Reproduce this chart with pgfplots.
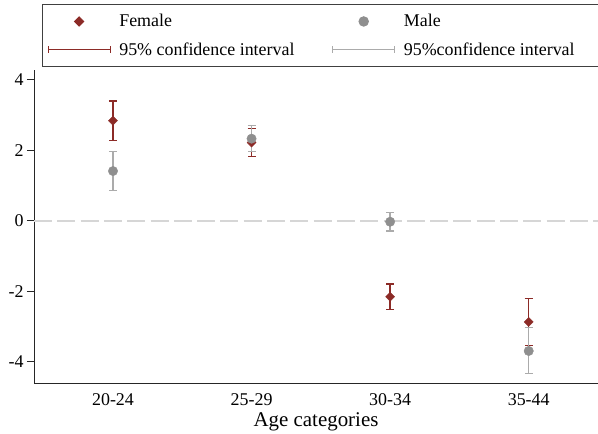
\documentclass[border=0pt]{standalone}
\usepackage{pgfplots}
\pgfplotsset{compat=1.18}
\usepackage{fontspec}
\setmainfont{Liberation Serif}
\definecolor{fred}{HTML}{8C2B27}
\definecolor{mgray}{HTML}{8F8F8F}
\definecolor{cgray}{HTML}{ABABAB}
\definecolor{zline}{HTML}{D6D6D6}
\begin{document}
\begin{tikzpicture}
\begin{axis}[
  at={(0,0)}, anchor=south west,
  scale only axis, width=564bp, height=313bp,
  xmin=-0.57, xmax=3.5, ymin=-4.61, ymax=4.28,
  axis x line*=bottom, axis y line*=left,
  axis line style={black!85, line width=1bp, -},
  xtick={0,1,2,3}, xticklabels={20-24,25-29,30-34,35-44},
  ytick={-4,-2,0,2,4}, yticklabels={-4,-2,0,2,4},
  xtick style={draw=none},
  ytick style={black!85, line width=1bp},
  tick align=outside, major tick length=7bp,
  ticklabel style={font=\fontsize{18}{20}\selectfont},
  xlabel={Age categories},
  xlabel style={font=\fontsize{21}{24}\selectfont},
  clip=false,
  legend columns=2,
  legend cell align=left,
  legend style={
    at={(8bp,378.5bp)}, anchor=north west,
    draw=black!75, line width=1bp,
    font=\fontsize{18}{20}\selectfont,
    inner xsep=5bp, inner ysep=7bp,
    row sep=9bp,
    /tikz/every even column/.append style={column sep=35bp},
    /tikz/every odd column/.append style={column sep=6bp},
    nodes={inner sep=2.5bp},
  },
]
\addlegendimage{legend image code/.code={
  \draw[mark=square*, mark options={fill=fred, draw=fred, rotate=45, mark size=3.2bp}] plot coordinates {(31bp,0)};}}
\addlegendentry{Female}
\addlegendimage{legend image code/.code={
  \draw[mark=*, mark options={fill=mgray, draw=mgray, mark size=4.7bp}] plot coordinates {(31bp,0)};}}
\addlegendentry{\makebox[205bp][l]{Male}}
\addlegendimage{legend image code/.code={
  \draw[fred, line width=1.3bp] (0,0) -- (62bp,0); \draw[fred, line width=1.3bp] (0,-3.5bp) -- (0,3.5bp); \draw[fred, line width=1.3bp] (62bp,-3.5bp) -- (62bp,3.5bp);}}
\addlegendentry{95\% confidence interval}
\addlegendimage{legend image code/.code={
  \draw[cgray, line width=1.3bp] (0,0) -- (62bp,0); \draw[cgray, line width=1.3bp] (0,-3.5bp) -- (0,3.5bp); \draw[cgray, line width=1.3bp] (62bp,-3.5bp) -- (62bp,3.5bp);}}
\addlegendentry{\makebox[205bp][l]{95\%confidence interval}}

\addplot[forget plot, draw=zline, line width=2bp, dash pattern=on 18bp off 5.3bp] coordinates {(-0.57,0) (3.5,0)};

% Female
\addplot[forget plot, only marks, mark=square*, mark options={fill=fred, draw=fred, rotate=45, mark size=3.2bp},
  error bars/.cd, y dir=both, y explicit,
  error bar style={fred, line width=1.3bp},
  error mark options={fred, line width=1.3bp, mark size=4bp, rotate=90}]
  table[x=x, y=y, y error plus=ep, y error minus=em] {
  x y ep em
  0 2.84 0.56 0.56
  1 2.22 0.39 0.39
  2 -2.16 0.36 0.36
  3 -2.875 0.675 0.675
  };
% Male
\addplot[forget plot, only marks, mark=*, mark options={fill=mgray, draw=mgray, mark size=4.7bp},
  error bars/.cd, y dir=both, y explicit,
  error bar style={cgray, line width=1.3bp},
  error mark options={cgray, line width=1.3bp, mark size=4bp, rotate=90}]
  table[x=x, y=y, y error plus=ep, y error minus=em] {
  x y ep em
  0 1.41 0.55 0.55
  1 2.33 0.37 0.36
  2 -0.03 0.27 0.26
  3 -3.70 0.66 0.65
  };
\end{axis}
\pgfresetboundingbox
\path (-34bp,-51bp) rectangle (564bp,383bp);
\end{tikzpicture}
\end{document}
